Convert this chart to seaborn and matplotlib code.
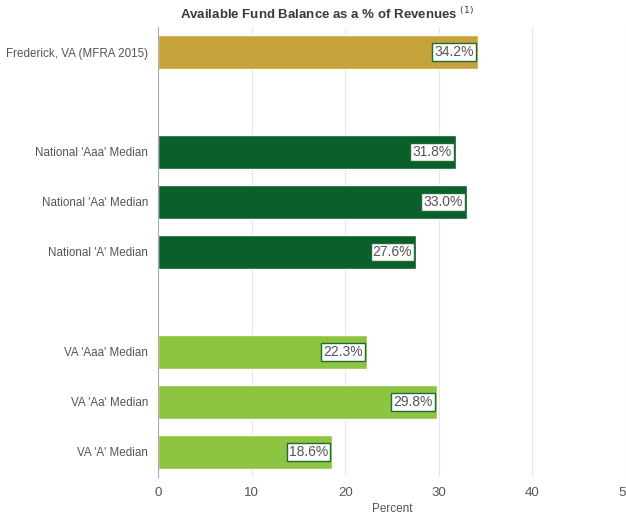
import matplotlib
matplotlib.use("Agg")
import matplotlib.pyplot as plt
import seaborn as sns
import pandas as pd
import numpy as np
from matplotlib.ticker import FixedLocator

categories = ["Frederick, VA (MFRA 2015)", " ", "National 'Aaa' Median", "National 'Aa' Median",
              "National 'A' Median", "  ", "VA 'Aaa' Median", "VA 'Aa' Median", "VA 'A' Median"]
values = [34.2, np.nan, 31.8, 33.0, 27.6, np.nan, 22.3, 29.8, 18.6]
groups = ["Frederick", "blank", "National", "National", "National", "blank", "VA", "VA", "VA"]
palette = {"Frederick": "#C6A23A", "National": "#0A5F2A", "VA": "#8DC540", "blank": "#FFFFFF"}
xticks = [0, 10, 20, 30, 40, 50]

df = pd.DataFrame({"category": categories, "value": values, "group": groups})

sns.set_style("white")
plt.rcParams["font.family"] = ["Liberation Sans", "DejaVu Sans"]

fig = plt.figure(figsize=(6.26, 5.17), dpi=100)
ax = fig.add_axes([158/626, 1-477/517, (626-158)/626, 450/517])

sns.barplot(data=df, x="value", y="category", hue="group", palette=palette, order=categories,
            dodge=False, width=0.68, legend=False, ax=ax, saturation=1, errorbar=None)

ax.set_xlim(0, 50)
ax.set_xticks(xticks)
ax.set_xticklabels([str(t) for t in xticks], fontsize=9.5, color="#555555")
ax.set_xlabel("Percent", fontsize=8.5, color="#555555", labelpad=3)
ax.set_ylabel("")
ax.tick_params(axis="y", length=0, labelsize=8.4, labelcolor="#555555", pad=7)
ax.tick_params(axis="x", length=0, pad=7)
ax.yaxis.set_minor_locator(FixedLocator(np.arange(0.5, len(categories) - 1, 1)))
ax.tick_params(axis="y", which="minor", length=5, color="#BBBBBB", width=0.8)
ax.grid(axis="x", color="#E6E6E6", linewidth=0.8)
ax.set_axisbelow(True)
for s in ["top", "right", "bottom"]:
    ax.spines[s].set_visible(False)
ax.spines["left"].set_color("#AAAAAA")
ax.spines["left"].set_linewidth(0.8)

for i, v in enumerate(values):
    if np.isnan(v):
        continue
    ax.text(v - 0.45, i, f"{v:.1f}%", ha="right", va="center", fontsize=10, color="#555555",
            bbox=dict(boxstyle="square,pad=0.15", fc="white", ec="#1E6B35", lw=1.0))

fig.text(327 / 626, 1 - 14/517, "Available Fund Balance as a % of Revenues $^{(1)}$",
         ha="center", va="center", fontsize=9.5, fontweight="bold", color="#3A3A3A")

fig.savefig("out.png", dpi=100)
